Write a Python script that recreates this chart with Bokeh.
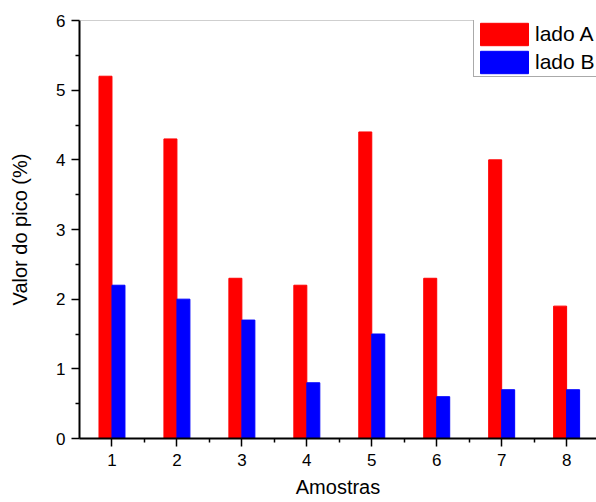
from bokeh.plotting import figure
from bokeh.models import ColumnDataSource, FixedTicker, Range1d, Span, Legend, LegendItem
from bokeh.transform import dodge
from bokeh.embed import file_html
from bokeh.resources import INLINE

amostras = [1, 2, 3, 4, 5, 6, 7, 8]
lado_a = [5.2, 4.3, 2.3, 2.2, 4.4, 2.3, 4.0, 1.9]
lado_b = [2.2, 2.0, 1.7, 0.8, 1.5, 0.6, 0.7, 0.7]
y_ticks = [0, 1, 2, 3, 4, 5, 6]

src = ColumnDataSource(dict(x=amostras, a=lado_a, b=lado_b))

FONT = "Liberation Sans"

p = figure(width=596, height=502, output_backend="svg", toolbar_location=None,
           x_range=Range1d(0.5, 8.46), y_range=Range1d(0, 6),
           min_border_left=79, min_border_right=0, min_border_top=20, min_border_bottom=64)

ra = p.vbar(x=dodge("x", -0.1, range=p.x_range), top="a", width=0.2, bottom=0, source=src,
            fill_color="#ff0000", line_color="#ff0000")
rb = p.vbar(x=dodge("x", 0.1, range=p.x_range), top="b", width=0.2, bottom=0, source=src,
            fill_color="#0000ff", line_color="#0000ff")

p.xgrid.visible = False
p.ygrid.visible = False
p.outline_line_color = None
p.add_layout(Span(location=6, dimension="width", line_color="#a0a0a0", line_width=1))

p.xaxis.ticker = FixedTicker(ticks=amostras, minor_ticks=[v + 0.5 for v in amostras])
p.yaxis.ticker = FixedTicker(ticks=y_ticks, minor_ticks=[v + 0.5 for v in y_ticks[:-1]])

for ax in (p.xaxis[0], p.yaxis[0]):
    ax.axis_line_color = "black"
    ax.axis_line_width = 2
    ax.major_tick_line_color = "black"
    ax.major_tick_line_width = 1.5
    ax.minor_tick_line_color = "black"
    ax.minor_tick_line_width = 1.5
    ax.major_tick_out = 8
    ax.major_tick_in = 0
    ax.minor_tick_out = 4
    ax.minor_tick_in = 0
    ax.major_label_text_font = FONT
    ax.major_label_text_font_size = "17px"
    ax.major_label_text_color = "black"
    ax.axis_label_text_font = FONT
    ax.axis_label_text_font_size = "20px"
    ax.axis_label_text_font_style = "normal"
    ax.axis_label_text_color = "black"

p.xaxis.axis_label = "Amostras"
p.yaxis.axis_label = "Valor do pico (%)"
p.xaxis.major_label_standoff = 7
p.xaxis.axis_label_standoff = 7
p.yaxis.major_label_standoff = 6
p.yaxis.axis_label_standoff = 22

legend = Legend(items=[LegendItem(label="lado A", renderers=[ra]),
                       LegendItem(label="lado B", renderers=[rb])],
                location=(394, 361))
legend.glyph_width = 60
legend.glyph_height = 28
legend.label_height = 28
legend.label_width = 90
legend.spacing = 0
legend.padding = 0
legend.margin = 0
legend.label_standoff = 1
legend.label_text_font = FONT
legend.label_text_font_size = "21px"
legend.label_text_color = "black"
legend.border_line_color = "#555555"
legend.border_line_width = 1
legend.background_fill_alpha = 1
p.add_layout(legend)

open("out.html", "w").write(file_html(p, INLINE))
